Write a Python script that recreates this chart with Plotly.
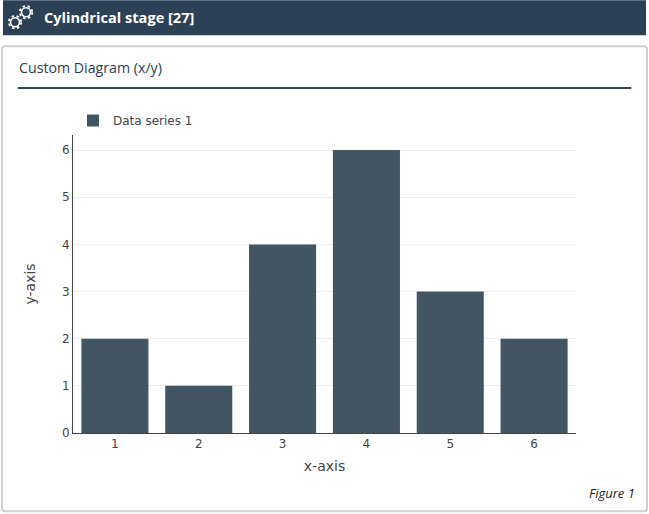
import plotly.graph_objects as go

categories = [1, 2, 3, 4, 5, 6]
values = [2, 1, 4, 6, 3, 2]
series_name = "Data series 1"
W, H = 649, 514
L, R, T, B = 73, 576, 135, 433.5

def px(x):
    return (x - L) / (R - L)

def py(y):
    return (B - y) / (B - T)

def rect(x0, y0, x1, y1, **kw):
    return dict(type="rect", xref="paper", yref="paper", x0=px(x0), x1=px(x1), y0=py(y0), y1=py(y1), layer="below", **kw)

def rounded(x0, y0, x1, y1, r, **kw):
    p = (f"M {px(x0+r)} {py(y0)} L {px(x1-r)} {py(y0)} Q {px(x1)} {py(y0)} {px(x1)} {py(y0+r)} "
         f"L {px(x1)} {py(y1-r)} Q {px(x1)} {py(y1)} {px(x1-r)} {py(y1)} "
         f"L {px(x0+r)} {py(y1)} Q {px(x0)} {py(y1)} {px(x0)} {py(y1-r)} "
         f"L {px(x0)} {py(y0+r)} Q {px(x0)} {py(y0)} {px(x0+r)} {py(y0)} Z")
    return dict(type="path", xref="paper", yref="paper", path=p, layer="below", **kw)

def circ(cx, cy, r, dash=None, width=1.5):
    return dict(type="circle", xref="paper", yref="paper", x0=px(cx-r), x1=px(cx+r), y0=py(cy-r), y1=py(cy+r),
                layer="above", line=dict(color="white", width=width, dash=dash or "solid"))

def label(x, y, text, size, color, family, xanchor="left", **kw):
    return dict(xref="paper", yref="paper", x=px(x), y=py(y), text=text, showarrow=False, xanchor=xanchor,
                yanchor="middle", font=dict(size=size, color=color, family=family), **kw)

fig = go.Figure(go.Bar(x=categories, y=values, name=series_name, marker=dict(color="#425563", line=dict(width=0)), width=0.8))
fig.update_layout(
    width=W, height=H, autosize=False,
    margin=dict(l=L, r=W-R, t=T, b=H-B, pad=0),
    paper_bgcolor="white", plot_bgcolor="white",
    font=dict(family="DejaVu Sans", size=12, color="#444"),
    showlegend=True,
    legend=dict(orientation="h", x=0.0, y=1.0, xanchor="left", yanchor="bottom", font=dict(size=12, color="#444"), bgcolor="rgba(0,0,0,0)"),
    xaxis=dict(range=[0.5, 6.5], tickvals=categories, showgrid=False, showline=True, linecolor="#444", linewidth=1,
               ticks="", title=dict(text="x-axis", font=dict(size=14, color="#444"), standoff=10), zeroline=False, tickfont=dict(size=12, color="#444")),
    yaxis=dict(range=[0, 6.32], tickvals=[0,1,2,3,4,5,6], showgrid=True, gridcolor="#eeeeee", gridwidth=1, showline=True, linecolor="#444",
               linewidth=1, ticks="", title=dict(text="y-axis", font=dict(size=14, color="#444"), standoff=23), zeroline=False, tickfont=dict(size=12, color="#444")),
    shapes=[
        rect(0, 0, W, H, fillcolor="white", line=dict(width=0)),
        rect(3, 0, 646, 35, fillcolor="#2c4156", line=dict(width=0)),
        rounded(2, 46, 647, 512, 3, fillcolor="white", line=dict(color="#d0d0d0", width=2)),
        rect(18, 87.5, 631, 88.5, fillcolor="#2c3e50", line=dict(color="#2c3e50", width=1)),
        circ(26, 12, 4.5, width=1.6), circ(26, 12, 6.2, dash="2.5px,2.5px", width=1.8),
        circ(15, 22, 4.5, width=1.6), circ(15, 22, 6.2, dash="2.5px,2.5px", width=1.8),
    ],
    annotations=[
        label(41.5, 17, "<b>Cylindrical stage [27]</b>", 14.6, "white", "Open Sans"),
        label(17, 67, "Custom Diagram (x/y)", 14.2, "#2c3e50", "Open Sans"),
        label(637, 494, "<i>Figure 1</i>", 13, "#222222", "Open Sans", xanchor="right"),
    ],
)
fig.write_html("out.html", config=dict(displayModeBar=False), post_script="document.body.style.margin='0';document.body.style.overflow='hidden';")
